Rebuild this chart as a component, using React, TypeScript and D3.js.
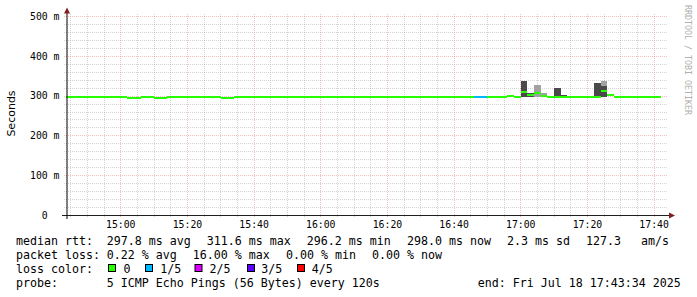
import React from 'react';
import * as d3 from 'd3';

// ---- time frame (UTC used only as a neutral clock) ----
const START = Date.UTC(2025, 6, 18, 14, 43, 34);
const END = Date.UTC(2025, 6, 18, 17, 43, 34);
const FIRST_SLOT = Date.UTC(2025, 6, 18, 14, 42, 0);
const STEP_MS = 120000;

// ---- median rtt per 2-minute slot (ms) ----
const medianMs = [
  297.8, 297.8, 297.8, 297.8, 297.8, 297.8, 297.8, 297.8, 297.8, 297.8,
  295.3, 295.3, 297.8, 297.8, 295.3, 295.3, 297.8, 297.8, 297.8, 297.8,
  297.8, 297.8, 297.8, 297.8, 295.3, 295.3, 297.8, 297.8, 297.8, 297.8,
  297.8, 297.8, 297.8, 297.8, 297.8, 297.8, 297.8, 297.8, 297.8, 297.8,
  297.8, 297.8, 297.8, 297.8, 297.8, 297.8, 297.8, 297.8, 297.8, 297.8,
  297.8, 297.8, 297.8, 297.8, 297.8, 297.8, 297.8, 297.8, 297.8, 297.8,
  297.8, 297.8, 297.8, 297.8, 297.8, 297.8, 297.8, 300.3, 297.8, 310.3,
  303.3, 307.3, 300.8, 296.5, 297.8, 297.8, 297.8, 297.8, 297.8, 297.8,
  297.8, 312.3, 302.8, 297.8, 297.8, 297.8, 297.8, 297.8, 297.8, 297.8,
];

// ---- lost pings (out of 5) per slot ----
const lossPings = [
  0, 0, 0, 0, 0, 0, 0, 0, 0, 0,
  0, 0, 0, 0, 0, 0, 0, 0, 0, 0,
  0, 0, 0, 0, 0, 0, 0, 0, 0, 0,
  0, 0, 0, 0, 0, 0, 0, 0, 0, 0,
  0, 0, 0, 0, 0, 0, 0, 0, 0, 0,
  0, 0, 0, 0, 0, 0, 0, 0, 0, 0,
  0, 0, 1, 1, 0, 0, 0, 0, 0, 0,
  0, 0, 0, 0, 0, 0, 0, 0, 0, 0,
  0, 0, 0, 0, 0, 0, 0, 0, 0, 0,
];

// ---- smoke bands (ping spread) ----
const smokeSlot = [69, 70, 71, 72, 74, 75, 80, 81, 81];
const smokeLowMs = [297, 297, 297, 297, 297, 297, 297, 297, 325.4];
const smokeHighMs = [338, 308.5, 327.9, 307, 319.6, 302.8, 332.2, 325.4, 338];
const smokeShade = [0, 0, 1, 1, 0, 0, 0, 0, 1];
const smokeColors = ['#4a4a4a', '#a2a2a2'];

// ---- loss colours / legend ----
const lossLabels = ['0', '1/5', '2/5', '3/5', '4/5'];
const lossColors = ['#26ff00', '#00b8ff', '#dd00ff', '#5e00ff', '#ff0000'];

// ---- axes ----
const yTickValues = [0, 100, 200, 300, 400, 500];
const yTickLabels = ['  0', '100 m', '200 m', '300 m', '400 m', '500 m'];

// ---- legend texts ----
const row1Texts = ['median rtt:', '297.8 ms avg', '311.6 ms max', '296.2 ms min', '298.0 ms now', '2.3 ms sd', '127.3', 'am/s'];
const row2Texts = ['packet loss:', '0.22 % avg', '16.00 % max', '0.00 % min', '0.00 % now'];
const row3Title = 'loss color:';
const row4Texts = ['probe:', '5 ICMP Echo Pings (56 Bytes) every 120s', 'end: Fri Jul 18 17:43:34 2025'];

// layout
const row1X = [16, 106.7, 206.7, 306.7, 407, 507, 586, 641];
const row2X = [16, 106.7, 192.7, 286, 372];
const boxX = [108.5, 145.5, 195, 247.5, 297.5];
const boxLabelX = [123.5, 160.2, 209.5, 261.2, 311.8];
const row4X = [16, 106.7, 477.7];

const MONO = '"DejaVu Sans Mono", monospace';

export default function App() {
  const W = 697, H = 297;
  const X0 = 66, X1 = 666;
  const xs = d3.scaleUtc().domain([new Date(START), new Date(END)]).range([X0, X1]);
  const ys = d3.scaleLinear().domain([0, 500]).range([215.5, 16.5]);

  const majorT = xs.ticks(d3.utcMinute.every(20) as any);
  const minorT = xs.ticks(d3.utcMinute.every(5) as any).filter((t: Date) => t.getUTCMinutes() % 20 !== 0);
  const fmt = d3.utcFormat('%H:%M');
  const yMinor = ys.ticks(25).filter((v) => v % 100 !== 0 && v > 0);
  const yMajor = yTickValues.filter((v) => v > 0);

  const gridC = '#8f8f8f';
  const mgridC = '#de5050';
  const slotX = (k: number) => xs(new Date(FIRST_SLOT + k * STEP_MS));
  const clip = (v: number) => Math.max(X0, Math.min(X1, v));

  const yPix = (v: number) => Math.floor(ys(v)) + 0.5;
  const xPix = (t: Date) => Math.floor(xs(t)) + 0.5;

  const rowY = [244.5, 258.5, 272.5, 286.5];

  return (
    <svg width={W} height={H} style={{ position: 'absolute', left: 0, top: 0, background: '#fff' }}>
      <rect x={0} y={0} width={W} height={H} fill="#ffffff" />

      {/* minor horizontal grid */}
      {yMinor.map((v) => (
        <line key={'hm' + v} x1={X0 - 2} x2={X1 + 2} y1={yPix(v)} y2={yPix(v)} stroke={gridC} strokeOpacity={0.38} strokeDasharray="1,1" />
      ))}
      {/* minor vertical grid */}
      {minorT.map((t: Date) => (
        <line key={'vm' + t.getTime()} x1={xPix(t)} x2={xPix(t)} y1={14} y2={218} stroke={gridC} strokeOpacity={0.38} strokeDasharray="1,1" />
      ))}
      {/* major horizontal grid */}
      {yMajor.map((v) => (
        <line key={'hM' + v} x1={X0 - 2} x2={X1 + 2} y1={yPix(v)} y2={yPix(v)} stroke={mgridC} strokeOpacity={0.36} strokeDasharray="1,1" />
      ))}
      {/* major vertical grid */}
      {majorT.map((t: Date) => (
        <line key={'vM' + t.getTime()} x1={xPix(t)} x2={xPix(t)} y1={14} y2={218} stroke={mgridC} strokeOpacity={0.36} strokeDasharray="1,1" />
      ))}

      {/* smoke */}
      {smokeSlot.map((k, i) => {
        const xa = clip(slotX(k));
        const xb = clip(slotX(k + 1));
        const ya = ys(smokeHighMs[i]);
        const yb = ys(smokeLowMs[i]);
        return (
          <rect key={'s' + i} x={xa} y={ya} width={xb - xa} height={yb - ya} fill={smokeColors[smokeShade[i]]} shapeRendering="crispEdges" />
        );
      })}

      {/* median coloured by loss */}
      {medianMs.map((m, k) => {
        const xa = clip(slotX(k));
        const xb = clip(slotX(k + 1));
        if (xb <= xa) return null;
        const yc = ys(m);
        return (
          <rect key={'m' + k} x={xa} y={yc - 1} width={xb - xa} height={2} fill={lossColors[lossPings[k]]} shapeRendering="crispEdges" />
        );
      })}

      {/* axes */}
      <line x1={62} x2={670} y1={215.5} y2={215.5} stroke="#1f1f1f" strokeWidth={1} />
      <line x1={67} x2={67} y1={219} y2={11} stroke="#000" strokeWidth={1} />
      <path d="M669,212.5 L669,218.5 L675,215.5 Z" fill="#801f1f" />
      <path d="M64,13.5 L70,13.5 L67,7.5 Z" fill="#801f1f" />

      {/* y tick labels */}
      {yTickValues.map((v, i) => (
        <text key={'yl' + v} x={30} y={ys(v) + 3.2} fontFamily={MONO} fontSize={9.8} fill="#000" style={{ whiteSpace: 'pre' }}>
          {yTickLabels[i]}
        </text>
      ))}
      {/* x tick labels */}
      {majorT.map((t: Date) => (
        <text key={'xl' + t.getTime()} x={xs(t)} y={228} fontFamily={MONO} fontSize={9.8} fill="#000" textAnchor="middle">
          {fmt(t)}
        </text>
      ))}

      {/* y axis title */}
      <text transform="translate(15.3,113.5) rotate(-90)" fontFamily='"DejaVu Sans", sans-serif' fontSize={11} fill="#000" textAnchor="middle">
        Seconds
      </text>

      {/* watermark */}
      <text transform="translate(684.8,60) rotate(90)" fontFamily={MONO} fontSize={8.3} fill="#b0b0b0" textAnchor="middle">
        RRDTOOL / TOBI OETIKER
      </text>

      {/* legend */}
      <g fontFamily={MONO} fontSize={11.63} fill="#000" style={{ whiteSpace: 'pre' }}>
        {row1Texts.map((s, i) => (
          <text key={'r1' + i} x={row1X[i]} y={rowY[0]}>{s}</text>
        ))}
        {row2Texts.map((s, i) => (
          <text key={'r2' + i} x={row2X[i]} y={rowY[1]}>{s}</text>
        ))}
        <text x={16} y={rowY[2]}>{row3Title}</text>
        {lossLabels.map((s, i) => (
          <g key={'lc' + i}>
            <rect x={boxX[i]} y={264.5} width={7} height={7} fill={lossColors[i]} stroke="#000" strokeWidth={1} />
            <text x={boxLabelX[i]} y={rowY[2]}>{s}</text>
          </g>
        ))}
        {row4Texts.map((s, i) => (
          <text key={'r4' + i} x={row4X[i]} y={rowY[3]}>{s}</text>
        ))}
      </g>
    </svg>
  );
}
